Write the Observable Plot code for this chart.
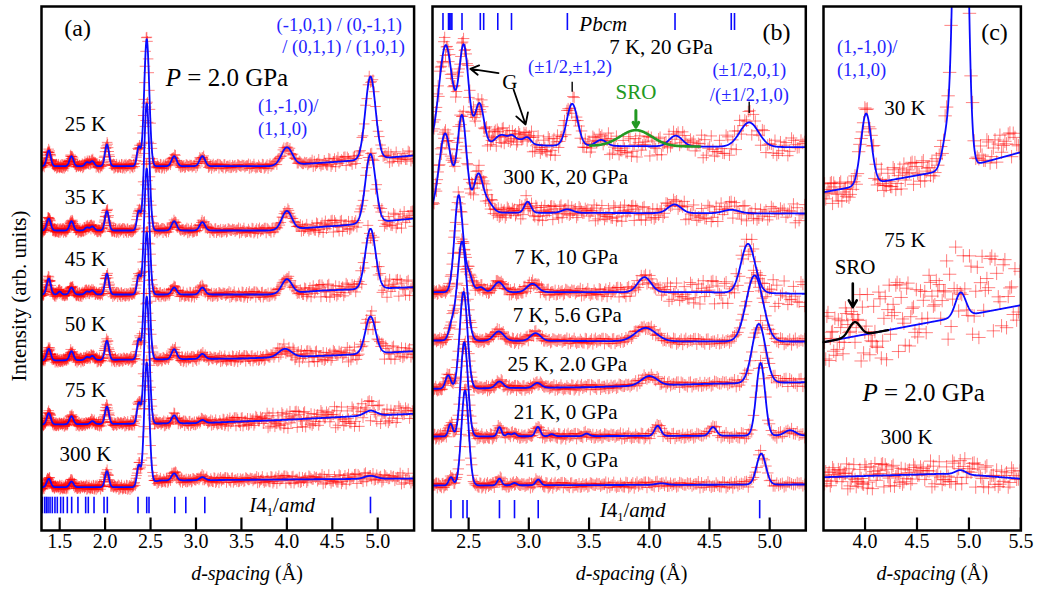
<!DOCTYPE html>
<html><head><meta charset="utf-8">
<script src="https://cdn.jsdelivr.net/npm/d3@7"></script>
<script src="https://cdn.jsdelivr.net/npm/@observablehq/plot@0.6"></script>
<style>
html,body{margin:0;padding:0;background:#fff;}
#chart{position:relative;width:1039px;height:589px;overflow:hidden;background:#fff;font-family:"Liberation Serif","Tinos","Times New Roman","Nimbus Roman","DejaVu Serif","Noto Serif",serif;}
#chart svg{position:absolute;top:0;overflow:visible;}
.ov{position:absolute;transform:translate(-50%,-50%);white-space:nowrap;color:#000;line-height:1;}
.ov sub{font-size:60%;vertical-align:-0.35em;line-height:0;}
</style></head><body><div id="chart"></div>
<script>
// ---------- axis ticks and reflection markers (d-spacing, Å) ----------
const ticksA = [1.5, 2.0, 2.5, 3.0, 3.5, 4.0, 4.5, 5.0];
const ticksB = [2.5, 3.0, 3.5, 4.0, 4.5, 5.0];
const ticksC = [4.0, 4.5, 5.0, 5.5];
const reflI41amdA = [1.308,1.334,1.353,1.372,1.394,1.419,1.448,1.474,1.511,1.54,1.584,1.632,1.701,1.786,1.815,1.878,1.988,2.024,2.362,2.458,2.483,2.767,2.888,3.097,4.92];
const reflI41amdB = [2.353,2.453,2.487,2.756,2.881,3.078,4.917];
const reflPbcm = [2.287,2.333,2.343,2.353,2.361,2.445,2.597,2.625,2.742,2.856,3.32,4.214,4.681,4.708];

// ---------- fitted patterns: background knots [d, I], peaks [d, height, sigma], scatter of data [d, amplitude] ----------
// panel (a), P = 2.0 GPa
const a25Bg = [[1.3,364.3],[3.8,364.3],[4.6,369],[5.4,375]];
const a25Peaks = [[1.38,15.7,0.022],[1.63,10,0.022],[1.80,4,0.022],[1.86,5,0.022],[2.02,21.7,0.022],[2.37,19,0.02],[2.458,127,0.028],[2.76,10,0.028],[3.07,10,0.03],[4.00,17.7,0.06],[4.92,82.6,0.056]];
const a25Noise = [[1.3,2.2],[4.1,2.5],[4.5,5],[5.4,6]];
const a35Bg = [[1.3,300],[3.8,300],[4.6,305],[5.4,312]];
const a35Peaks = [[1.38,12,0.022],[1.63,9.3,0.022],[1.80,3,0.022],[1.86,4,0.022],[2.02,19.3,0.022],[2.37,19,0.02],[2.458,127,0.028],[2.76,9.3,0.028],[3.07,8.3,0.03],[4.00,18.3,0.055],[4.92,68.7,0.056]];
const a35Noise = [[1.3,2.2],[4.1,3],[4.5,7],[5.4,9]];
const a45Bg = [[1.3,236],[3.8,236],[4.4,240],[5.4,243.3]];
const a45Peaks = [[1.38,16,0.022],[1.5,3,0.018],[1.63,7,0.022],[1.80,3,0.022],[1.86,4,0.022],[2.02,20.7,0.022],[2.37,19,0.02],[2.458,126,0.028],[2.76,7,0.028],[3.07,7,0.03],[4.00,14,0.055],[4.92,60,0.056]];
const a45Noise = [[1.3,2.2],[4.1,3.5],[4.5,9],[5.4,10]];
const a50Bg = [[1.3,170],[3.5,172],[4.5,175],[5.4,179.3]];
const a50Peaks = [[1.38,11.7,0.022],[1.63,9,0.022],[1.80,3,0.022],[1.86,4,0.022],[2.02,19,0.022],[2.37,20,0.02],[2.458,127,0.028],[2.76,10,0.028],[3.07,5,0.03],[3.98,8.2,0.07],[4.92,37,0.056]];
const a50Noise = [[1.3,2.2],[3.6,3.5],[4.3,7],[5.4,9]];
const a75Bg = [[1.3,106],[3.0,107.3],[4.0,110.7],[4.7,114],[5.4,116.7]];
const a75Peaks = [[1.38,11.3,0.022],[1.63,8,0.022],[1.86,3,0.022],[2.02,17.3,0.022],[2.37,20.5,0.02],[2.458,127,0.028],[2.76,8,0.028],[3.07,3,0.03],[4.92,5,0.065]];
const a75Noise = [[1.3,2.2],[3.2,3],[3.8,8],[4.4,11],[5.4,12]];
const a300Bg = [[1.3,43.3],[2.3,43.3],[2.6,50],[5.4,52]];
const a300Peaks = [[1.38,8.4,0.022],[1.63,5.7,0.022],[2.02,16,0.022],[2.37,20,0.02],[2.458,121,0.028],[2.76,7,0.028],[3.07,3,0.03],[4.92,3,0.065]];
const a300Noise = [[1.3,2.2],[3.5,3],[4.2,5],[5.4,6]];

// panel (b)
const b7K20Bg = [[2.2,383],[3.0,385],[5.3,383.3]];
const b7K20Peaks = [[2.31,102,0.055],[2.46,100,0.04],[2.59,43,0.037],[2.76,8,0.05],[2.88,7,0.09],[2.86,3,0.022],[2.99,5,0.027],[3.36,42,0.045],[3.6,6,0.045],[4.22,10.7,0.055],[4.83,24.4,0.078]];
const b7K20Noise = [[2.2,8],[3.0,10],[5.3,13]];
const b300K20Bg = [[2.2,318],[5.3,317]];
const b300K20Peaks = [[2.305,79,0.05],[2.445,96,0.038],[2.58,37.7,0.037],[2.66,10,0.04],[2.99,11,0.027],[3.32,3.5,0.045],[4.21,8.7,0.055],[4.68,3.5,0.065]];
const b300K20Noise = [[2.2,7],[5.3,10]];
const b7K10Bg = [[2.2,238.3],[4.5,238.3],[5.3,236.7]];
const b7K10Peaks = [[2.417,96.7,0.034],[2.5,18,0.03],[2.6,5,0.03],[2.75,10,0.038],[3.03,8.4,0.045],[3.96,15,0.055],[4.82,49,0.058]];
const b7K10Noise = [[2.2,3],[3.6,4],[4.2,10],[4.6,14],[5.3,14]];
const b7K56Bg = [[2.2,190],[4.6,189],[5.3,189]];
const b7K56Peaks = [[2.36,14,0.025],[2.445,99,0.038],[2.75,9.3,0.042],[3.056,7.7,0.042],[3.97,13.3,0.085],[4.875,66,0.07]];
const b7K56Noise = [[2.2,2.5],[5.3,3.5]];
const b25K2Bg = [[2.2,141.7],[3.5,143.3],[4.5,146.7],[5.3,148.3]];
const b25K2Peaks = [[2.33,13.3,0.022],[2.458,96.6,0.032],[2.756,6.6,0.032],[3.07,4.8,0.032],[4.0,9.5,0.065],[4.91,59,0.055]];
const b25K2Noise = [[2.2,2.5],[4.4,3],[5.3,5]];
const b21K0Bg = [[2.2,94],[5.3,95]];
const b21K0Peaks = [[2.35,12.7,0.018],[2.464,94.3,0.03],[2.756,9.3,0.017],[2.83,2.5,0.017],[2.88,3,0.017],[3.075,9.3,0.02],[3.19,2,0.02],[3.48,2.5,0.022],[4.07,10,0.026],[4.53,8.7,0.028],[4.925,72.7,0.036],[5.17,5.3,0.045]];
const b21K0Noise = [[2.2,2.5],[5.3,3.5]];
const b41K0Bg = [[2.2,45],[5.3,46]];
const b41K0Peaks = [[2.353,8.3,0.018],[2.47,95,0.03],[2.756,6.7,0.018],[2.88,2.3,0.02],[3.078,5.7,0.02],[4.1,1.5,0.045],[4.93,31,0.038]];
const b41K0Noise = [[2.2,2.5],[5.3,3.5]];
const bSROPeak = [[3.89,16,0.13]];
const bSRORange = [3.51, 4.42];

// panel (c), P = 2.0 GPa
const c30Bg = [[3.6,338.3],[4.6,357],[5.1,367],[5.5,378.3]];
const c30Peaks = [[4.01,71,0.05],[4.79,35,0.045],[4.92,700,0.048]];
const c30Noise = [[3.6,12],[5.5,14]];
const c30Offset = [[3.6,-3],[4.4,2],[5.1,10],[5.5,10]];
const c75Bg = [[3.6,188.3],[5.5,225.3]];
const c75Peaks = [[4.92,24,0.05]];
const c75Noise = [[3.6,30],[4.3,40],[5.5,44]];
const c75Offset = [[3.6,6],[4.2,8],[4.6,18],[5.5,16]];
const c300Bg = [[3.6,53.3],[4.75,56.7],[5.1,55],[5.5,51.7]];
const c300Peaks = [[4.92,4.5,0.05]];
const c300Noise = [[3.6,13],[5.5,14]];
const cSROPeak = [[3.90,14.2,0.055]];
const cSRORange = [3.6, 4.22];
const noOffset = [[0,0],[10,0]];

// estimated scatter of the observed points about the fit (fraction of local amplitude)
const residuals = [0.31,-0.72,0.15,0.88,-0.44,-0.06,0.63,-0.91,0.27,0.49,-0.35,0.02,-0.67,0.79,-0.18,0.55,-0.83,0.12,0.96,-0.51,0.38,-0.24,0.71,-0.09,-0.62,0.44,0.07,-0.97,0.58,-0.29,0.83,-0.41,0.19,-0.77,0.66,0.04,-0.55,0.92,-0.14,0.35,-0.86,0.51,-0.03,0.74,-0.47,0.23,-0.69,0.11,0.89,-0.33,0.46,-0.58,0.29,-0.12,0.68,-0.94,0.41,0.16,-0.79,0.53,-0.21,0.85,-0.38,0.09];

// ---------- labels ----------
const labelsA = [{text:"25 K",d:1.784,y:406.7},{text:"35 K",d:1.784,y:333.3},{text:"45 K",d:1.784,y:271.7},{text:"50 K",d:1.784,y:206.7},{text:"75 K",d:1.784,y:140},{text:"300 K",d:1.784,y:76.7}];
const labelsB = [{text:"7 K, 20 GPa",d:4.098,y:483.3},{text:"300 K, 20 GPa",d:3.306,y:353.3},{text:"7 K, 10 GPa",d:3.31,y:273.3},{text:"7 K, 5.6 GPa",d:3.32,y:215},{text:"25 K, 2.0 GPa",d:3.32,y:166.7},{text:"21 K, 0 GPa",d:3.306,y:118.3},{text:"41 K, 0 GPa",d:3.31,y:70}];
const labelsC = [{text:"30 K",d:4.384,y:422.7},{text:"75 K",d:4.384,y:290},{text:"300 K",d:4.40,y:93.3}];
const hklMidA = [{text:"(-1,0,1) / (0,-1,1)",d:4.576,y:505},{text:"/ (0,1,1) / (1,0,1)",d:4.625,y:483.3}];
const hklStartA = [{text:"(1,-1,0)/",d:3.681,y:424},{text:"(1,1,0)",d:3.681,y:401.7}];
const hklB = [{text:"(±1/2,±1,2)",d:3.342,y:463.3},{text:"(±1/2,0,1)",d:4.831,y:460},{text:"/(±1/2,1,0)",d:4.831,y:435}];
const hklStartC = [{text:"(1,-1,0)/",d:3.729,y:483.3},{text:"(1,1,0)",d:3.729,y:460}];
const arrowsG = [{x1:2.748,y1:457.3,x2:2.514,y2:461.7},{x1:2.873,y1:441,x2:2.973,y2:406}];
const hklRules = [{d:3.36,y1:448.3,y2:438.3},{d:4.83,y1:428.3,y2:417}];

// ---------- helpers ----------
const SERIF = '"Liberation Serif","Tinos","Times New Roman","Nimbus Roman","DejaVu Serif","Noto Serif",serif';
const FIT = "#0a0aff", TXTBLUE = "#2323ff", GREEN = "#229922";
const PAD = 14;
const chart = document.getElementById("chart");

const knots = k => d3.scaleLinear(k.map(p => p[0]), k.map(p => p[1])).clamp(true);
function model(bg, peaks) {
  const b = knots(bg);
  return d => b(d) + d3.sum(peaks, ([c, h, s]) => h * Math.exp(-0.5 * ((d - c) / s) ** 2));
}
function fitPoints(bg, peaks, [d0, d1]) {
  const f = model(bg, peaks);
  return d3.range(d0, d1 + 0.0015, 0.003).map(d => ({d, y: f(d)}));
}
function observedPoints(tr, domain, ratio, k) {
  const f = model(tr.bg, tr.peaks), b = knots(tr.bg), amp = knots(tr.noise), off = knots(tr.offset || noOffset);
  const pts = [];
  let d = domain[0], i = 0;
  while (d <= domain[1]) {
    const v = f(d);
    pts.push({d, y: v + off(d) + residuals[(i * 37 + k * 23) % residuals.length] * (amp(d) + 0.04 * (v - b(d)))});
    d *= 1 + ratio; i++;
  }
  return pts;
}

const panels = [
  {left: 40.7, width: 372.6, domain: [1.3, 5.4], ticks: ticksA, ratio: 0.0028, cross: 3.5, labels: labelsA,
   traces: [{bg:a25Bg,peaks:a25Peaks,noise:a25Noise},{bg:a35Bg,peaks:a35Peaks,noise:a35Noise},{bg:a45Bg,peaks:a45Peaks,noise:a45Noise},{bg:a50Bg,peaks:a50Peaks,noise:a50Noise},{bg:a75Bg,peaks:a75Peaks,noise:a75Noise},{bg:a300Bg,peaks:a300Peaks,noise:a300Noise}],
   extra: () => [
     Plot.tickX(reflI41amdA, {x: d => d, insetTop: 490.7, insetBottom: 16.7, stroke: FIT, strokeWidth: 1.6}),
     Plot.text(hklMidA, {x: "d", y: "y", text: "text", fontSize: 18.5, fill: TXTBLUE}),
     Plot.text(hklStartA, {x: "d", y: "y", text: "text", fontSize: 18.5, fill: TXTBLUE, textAnchor: "start"}),
     Plot.text(["(a)"], {x: 1.698, y: 501.7, text: d => d, fontSize: 24, fill: "#000"})
   ]},
  {left: 431.7, width: 373.3, domain: [2.2, 5.3], ticks: ticksB, ratio: 0.003, cross: 3.8, labels: labelsB,
   traces: [{bg:b7K20Bg,peaks:b7K20Peaks,noise:b7K20Noise},{bg:b300K20Bg,peaks:b300K20Peaks,noise:b300K20Noise},{bg:b7K10Bg,peaks:b7K10Peaks,noise:b7K10Noise},{bg:b7K56Bg,peaks:b7K56Peaks,noise:b7K56Noise},{bg:b25K2Bg,peaks:b25K2Peaks,noise:b25K2Noise},{bg:b21K0Bg,peaks:b21K0Peaks,noise:b21K0Noise},{bg:b41K0Bg,peaks:b41K0Peaks,noise:b41K0Noise}],
   extra: () => [
     Plot.line(fitPoints(b7K20Bg, bSROPeak, bSRORange), {x: "d", y: "y", stroke: GREEN, strokeWidth: 2.6}),
     Plot.tickX(reflI41amdB, {x: d => d, insetTop: 494, insetBottom: 11.7, stroke: FIT, strokeWidth: 1.6}),
     Plot.tickX(reflPbcm, {x: d => d, insetTop: 7, insetBottom: 500, stroke: FIT, strokeWidth: 1.6}),
     Plot.ruleX(hklRules, {x: "d", y1: "y1", y2: "y2", stroke: "#000", strokeWidth: 1.4}),
     Plot.arrow(arrowsG, {x1: "x1", y1: "y1", x2: "x2", y2: "y2", stroke: "#000", strokeWidth: 1.8, headLength: 11}),
     Plot.arrow([{x: 3.889, y1: 420, y2: 403.3}], {x1: "x", x2: "x", y1: "y1", y2: "y2", stroke: GREEN, strokeWidth: 3, headLength: 11}),
     Plot.text(hklB, {x: "d", y: "y", text: "text", fontSize: 18.5, fill: TXTBLUE}),
     Plot.text(["Pbcm"], {x: 3.618, y: 506.7, text: d => d, fontSize: 21, fontStyle: "italic", fill: "#000"}),
     Plot.text(["G"], {x: 2.842, y: 448.3, text: d => d, fontSize: 21, fill: "#000"}),
     Plot.text(["SRO"], {x: 3.889, y: 438.3, text: d => d, fontSize: 21, fill: GREEN}),
     Plot.text(["(b)"], {x: 5.056, y: 498.3, text: d => d, fontSize: 24, fill: "#000"})
   ]},
  {left: 823.3, width: 197.4, domain: [3.6, 5.5], ticks: ticksC, ratio: 0.003, cross: 4.4, labels: labelsC,
   traces: [{bg:c30Bg,peaks:c30Peaks,noise:c30Noise,offset:c30Offset},{bg:c75Bg,peaks:c75Peaks,noise:c75Noise,offset:c75Offset},{bg:c300Bg,peaks:c300Peaks,noise:c300Noise}],
   extra: () => [
     Plot.line(fitPoints(c75Bg, cSROPeak, cSRORange), {x: "d", y: "y", stroke: "#000", strokeWidth: 2.3}),
     Plot.arrow([{x: 3.882, y1: 247, y2: 223.3}], {x1: "x", x2: "x", y1: "y1", y2: "y2", stroke: "#000", strokeWidth: 2.6, headLength: 11}),
     Plot.text(hklStartC, {x: "d", y: "y", text: "text", fontSize: 18.5, fill: TXTBLUE, textAnchor: "start"}),
     Plot.text(["SRO"], {x: 3.904, y: 263.3, text: d => d, fontSize: 21, fill: "#000"}),
     Plot.text(["(c)"], {x: 5.246, y: 498.3, text: d => d, fontSize: 24, fill: "#000"})
   ]}
];

const built = panels.map(p => {
  const marks = [];
  p.traces.forEach((tr, k) => marks.push(Plot.dot(observedPoints(tr, p.domain, p.ratio, k), {
    x: "d", y: "y", symbol: "plus", r: p.cross, fill: "none", stroke: "#ff0000", strokeWidth: 1, strokeOpacity: 0.5, clip: true})));
  p.traces.forEach(tr => marks.push(Plot.line(fitPoints(tr.bg, tr.peaks, p.domain), {x: "d", y: "y", stroke: FIT, strokeWidth: 1.8, clip: true})));
  marks.push(...p.extra());
  marks.push(Plot.tickX(p.ticks, {x: d => d, insetTop: 511.5, stroke: "#000", strokeWidth: 2.2}));
  marks.push(Plot.text(p.ticks, {x: d => d, frameAnchor: "bottom", dy: 18, text: d => d.toFixed(1), fontSize: 20, fill: "#000"}));
  marks.push(Plot.text(p.labels, {x: "d", y: "y", text: "text", fontSize: 21, fill: "#000"}));
  marks.push(Plot.frame({stroke: "#000", strokeWidth: 2.5}));
  const svg = Plot.plot({
    width: p.width + 2 * PAD, height: 589,
    marginLeft: PAD, marginRight: PAD, marginTop: 6, marginBottom: 59,
    x: {domain: p.domain, axis: null}, y: {domain: [0, 524], axis: null},
    style: {fontFamily: SERIF, background: "transparent", overflow: "visible"},
    marks
  });
  svg.style.left = (p.left - PAD) + "px";
  svg.style.fontFamily = SERIF;
  chart.appendChild(svg);
  return {p, svg};
});

function overlay(html, x, y, size, rotate) {
  const el = document.createElement("div");
  el.className = "ov";
  el.style.left = x + "px"; el.style.top = y + "px"; el.style.fontSize = size + "px";
  el.style.fontFamily = SERIF;
  if (rotate) el.style.transform = "translate(-50%,-50%) rotate(-90deg)";
  el.innerHTML = html;
  chart.appendChild(el);
}
function at(i, d, y) {
  const {p, svg} = built[i];
  return [p.left - PAD + svg.scale("x").apply(d), svg.scale("y").apply(y)];
}
const xTitle = '<i>d-spacing</i> (Å)';
[[0, 3.57], [1, 3.86], [2, 4.65]].forEach(([i, d]) => overlay(xTitle, ...at(i, d, -43.3), 20));
overlay('<i>I</i>4<sub>1</sub>/<i>amd</i>', ...at(0, 3.957, 25), 21);
overlay('<i>I</i>4<sub>1</sub>/<i>amd</i>', ...at(1, 3.868, 20), 21);
overlay('<i>P</i> = 2.0 GPa', ...at(0, 3.35, 453.3), 25);
overlay('<i>P</i> = 2.0 GPa', ...at(2, 4.566, 138.3), 25);
overlay('Intensity (arb. units)', 18.5, 296, 21, true);
</script></body></html>
